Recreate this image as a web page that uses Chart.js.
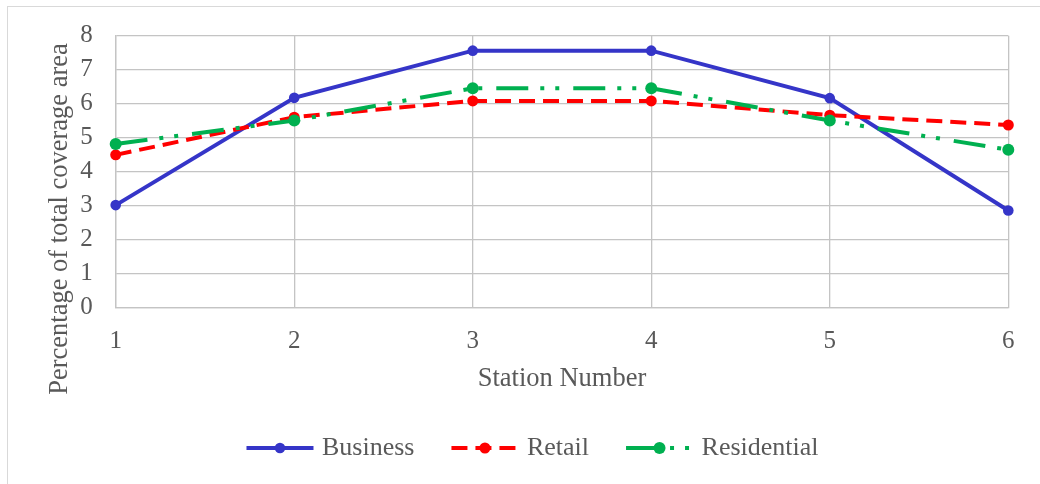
<!DOCTYPE html>
<html>
<head>
<meta charset="utf-8">
<script src="https://cdn.jsdelivr.net/npm/chart.js@4/dist/chart.umd.min.js"></script>
<style>
  html, body { margin: 0; padding: 0; background: #ffffff; }
  #wrap { width: 1040px; height: 484px; position: relative; }
</style>
</head>
<body>
<div id="wrap"><canvas id="c" width="1040" height="484"></canvas></div>
<script>
// ---- data ----
const stations = ['1', '2', '3', '4', '5', '6'];
const business = [3.01, 6.17, 7.56, 7.56, 6.16, 2.85];
const retail = [4.49, 5.60, 6.08, 6.08, 5.66, 5.37];
const residential = [4.81, 5.50, 6.45, 6.45, 5.50, 4.64];
const seriesNames = ['Business', 'Retail', 'Residential'];
const yTitle = 'Percentage of total coverage area';
const xTitle = 'Station Number';

const FONT = '"Liberation Serif", "Times New Roman", serif';
const TEXT = '#595959';
const GRID = '#c4c4c4';

const bgPlugin = {
  id: 'bg',
  beforeDraw(chart) {
    const ctx = chart.ctx;
    ctx.save();
    ctx.fillStyle = '#ffffff';
    ctx.fillRect(0, 0, chart.width, chart.height);
    ctx.strokeStyle = '#d9d9d9';
    ctx.lineWidth = 1;
    ctx.strokeRect(7.5, 6.5, 1100, 600);
    ctx.restore();
  }
};

// y-axis title drawn separately (Excel places it off-centre from the plot)
const yTitlePlugin = {
  id: 'yTitle',
  afterDraw(chart) {
    const ctx = chart.ctx;
    ctx.save();
    ctx.translate(60, 219);
    ctx.rotate(-Math.PI / 2);
    ctx.font = '26.5px ' + FONT;
    ctx.fillStyle = TEXT;
    ctx.textAlign = 'center';
    ctx.textBaseline = 'middle';
    ctx.fillText(yTitle, 0, 0);
    ctx.restore();
  }
};

const legendPlugin = {
  id: 'customLegend',
  afterDraw(chart) {
    const ctx = chart.ctx;
    ctx.save();
    ctx.font = '26px ' + FONT;
    const sampleW = 67, textGap = 8.5, itemGap = 37, y = 448, cx = 532.5;
    const items = chart.data.datasets.map(ds => ({ ds, tw: ctx.measureText(ds.label).width }));
    const total = items.reduce((s, it) => s + sampleW + textGap + it.tw, 0) + itemGap * (items.length - 1);
    let x = cx - total / 2;
    items.forEach(({ ds, tw }) => {
      ctx.strokeStyle = ds.borderColor;
      ctx.lineWidth = ds.borderWidth;
      ctx.lineCap = 'butt';
      ctx.setLineDash(ds.borderDash || []);
      ctx.beginPath();
      ctx.moveTo(x, y);
      ctx.lineTo(x + sampleW, y);
      ctx.stroke();
      ctx.setLineDash([]);
      ctx.fillStyle = ds.pointBackgroundColor;
      ctx.beginPath();
      ctx.arc(x + sampleW / 2, y, ds.pointRadius, 0, Math.PI * 2);
      ctx.fill();
      ctx.fillStyle = TEXT;
      ctx.textBaseline = 'middle';
      ctx.textAlign = 'left';
      ctx.fillText(ds.label, x + sampleW + textGap, y);
      x += sampleW + textGap + tw + itemGap;
    });
    ctx.restore();
  }
};

new Chart(document.getElementById('c'), {
  type: 'line',
  data: {
    labels: stations,
    datasets: [
      {
        label: seriesNames[0], data: business, order: 3,
        borderColor: '#3535c8', backgroundColor: '#3535c8',
        pointBackgroundColor: '#3535c8', pointBorderColor: '#3535c8',
        borderWidth: 4, pointRadius: 5.3, pointBorderWidth: 0, tension: 0, clip: false
      },
      {
        label: seriesNames[1], data: retail, order: 2,
        borderColor: '#ff0000', backgroundColor: '#ff0000',
        pointBackgroundColor: '#ff0000', pointBorderColor: '#ff0000',
        borderWidth: 4, borderDash: [16, 8], pointRadius: 5.5, pointBorderWidth: 0, tension: 0, clip: false
      },
      {
        label: seriesNames[2], data: residential, order: 1,
        borderColor: '#00b050', backgroundColor: '#00b050',
        pointBackgroundColor: '#00b050', pointBorderColor: '#00b050',
        borderWidth: 4, borderDash: [32, 12, 4, 11, 4, 14], pointRadius: 6, pointBorderWidth: 0, tension: 0, clip: false
      }
    ]
  },
  options: {
    responsive: false,
    animation: false,
    events: [],
    layout: { padding: { left: 57.2, right: 31.7, top: 34.3, bottom: 89 } },
    plugins: {
      legend: { display: false },
      tooltip: { enabled: false },
      title: { display: false }
    },
    scales: {
      x: {
        type: 'category',
        offset: false,
        grid: { color: GRID, lineWidth: 1.3, drawTicks: false, offset: false },
        border: { display: true, color: GRID, width: 1.3 },
        ticks: { color: TEXT, font: { family: FONT, size: 25 }, padding: 18.7, maxRotation: 0, autoSkip: false },
        title: { display: true, text: xTitle, color: TEXT, font: { family: FONT, size: 26.5 }, padding: { top: -11.5, bottom: 0 } }
      },
      y: {
        min: 0, max: 8,
        grid: { color: GRID, lineWidth: 1.3, drawTicks: false },
        border: { display: true, color: GRID, width: 1.3 },
        ticks: { stepSize: 1, autoSkip: false, color: TEXT, font: { family: FONT, size: 25, lineHeight: 1.016 }, padding: 23 },
        title: { display: false }
      }
    }
  },
  plugins: [bgPlugin, yTitlePlugin, legendPlugin]
});
</script>
</body>
</html>
